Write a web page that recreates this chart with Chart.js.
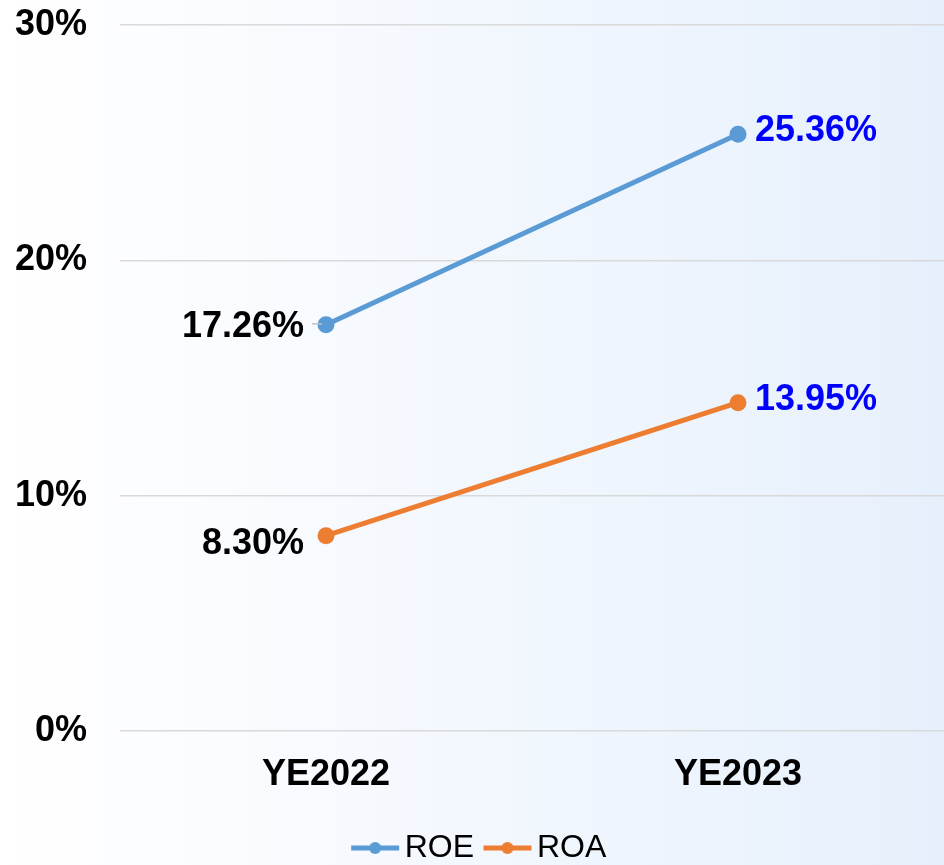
<!DOCTYPE html>
<html>
<head>
<meta charset="utf-8">
<script src="https://cdn.jsdelivr.net/npm/chart.js@4.4.1/dist/chart.umd.min.js"></script>
<style>
  html, body { margin: 0; padding: 0; background: #ffffff; }
  #wrap { width: 944px; height: 865px; }
</style>
</head>
<body>
<div id="wrap"><canvas id="ratioChart" width="944" height="865"></canvas></div>
<script>
const years = ['YE2022', 'YE2023'];
const roeValues = [17.26, 25.36];
const roaValues = [8.30, 13.95];
const yTicks = [0, 10, 20, 30];

const FONT = '"Liberation Sans", Arial, sans-serif';
const ROE_COLOR = '#5b9bd5';
const ROA_COLOR = '#ed7d31';

// legend marker: short line with a dot in the middle
// (canvas is centred on x + pointStyleWidth/2, so the line is drawn from 11.5 to 59.5)
function legendMarker(color) {
    const c = document.createElement('canvas');
    c.width = 60;
    c.height = 14;
    const g = c.getContext('2d');
    g.strokeStyle = color;
    g.lineWidth = 5;
    g.beginPath();
    g.moveTo(11, 7);
    g.lineTo(59, 7);
    g.stroke();
    g.fillStyle = color;
    g.beginPath();
    g.arc(35, 7, 6, 0, Math.PI * 2);
    g.fill();
    return c;
}

const backgroundPlugin = {
    id: 'bgGradient',
    beforeDraw(chart) {
        const ctx = chart.ctx;
        const grad = ctx.createLinearGradient(0, 0, chart.width, 0);
        grad.addColorStop(0, '#ffffff');
        grad.addColorStop(0.15, '#fcfdff');
        grad.addColorStop(1, '#e6f0fc');
        ctx.save();
        ctx.fillStyle = grad;
        ctx.fillRect(0, 0, chart.width, chart.height);
        ctx.restore();
    }
};

const valueLabels = {
    id: 'valueLabels',
    afterDatasetsDraw(chart) {
        const ctx = chart.ctx;
        ctx.save();
        ctx.font = 'bold 36px ' + FONT;
        ctx.textBaseline = 'middle';
        chart.data.datasets.forEach((ds, i) => {
            const meta = chart.getDatasetMeta(i);
            meta.data.forEach((pt, j) => {
                const txt = ds.data[j].toFixed(2) + '%';
                if (j === 0) {
                    if (i === 0) {
                        // small leader line
                        ctx.strokeStyle = '#bfbfbf';
                        ctx.lineWidth = 1.5;
                        ctx.beginPath();
                        ctx.moveTo(pt.x - 14, pt.y - 1);
                        ctx.lineTo(pt.x - 4, pt.y - 1);
                        ctx.stroke();
                    }
                    ctx.fillStyle = '#000000';
                    ctx.textAlign = 'right';
                    ctx.fillText(txt, pt.x - 22, pt.y + (i === 1 ? 8 : 2));
                } else {
                    ctx.fillStyle = '#0000ff';
                    ctx.textAlign = 'left';
                    ctx.fillText(txt, pt.x + 17, pt.y - 3);
                }
            });
        });
        ctx.restore();
    }
};

new Chart(document.getElementById('ratioChart'), {
    type: 'line',
    data: {
        labels: years,
        datasets: [{
            label: 'ROE',
            data: roeValues,
            borderColor: ROE_COLOR,
            backgroundColor: ROE_COLOR,
            borderWidth: 5,
            pointRadius: 6,
            pointHoverRadius: 6,
            tension: 0
        }, {
            label: 'ROA',
            data: roaValues,
            borderColor: ROA_COLOR,
            backgroundColor: ROA_COLOR,
            borderWidth: 5,
            pointRadius: 6,
            pointHoverRadius: 6,
            tension: 0
        }]
    },
    options: {
        responsive: false,
        animation: false,
        layout: { autoPadding: false, padding: { top: 0, left: 14, right: 0, bottom: 0 } },
        scales: {
            x: {
                offset: true,
                grid: { display: false },
                border: { display: false },
                afterFit(axis) {
                    axis.height = 91;
                    axis.paddingLeft = 0;
                    axis.paddingRight = 0;
                },
                ticks: {
                    color: '#000000',
                    font: { family: FONT, size: 36, weight: 'bold' },
                    padding: 14
                }
            },
            y: {
                min: 0,
                max: 30,
                afterBuildTicks(axis) {
                    axis.ticks = yTicks.map(v => ({ value: v }));
                },
                afterFit(axis) {
                    axis.width = 106;
                    axis.paddingTop = 25;
                    axis.paddingBottom = 0;
                },
                grid: { color: '#d9d9d9', lineWidth: 1.5, drawTicks: false },
                border: { display: false },
                ticks: {
                    color: '#000000',
                    font: { family: FONT, size: 36, weight: 'bold' },
                    padding: 33,
                    callback: v => v + '%'
                }
            }
        },
        plugins: {
            tooltip: { enabled: false },
            legend: {
                position: 'bottom',
                maxHeight: 43,
                labels: {
                    usePointStyle: true,
                    pointStyleWidth: 37,
                    padding: 10,
                    color: '#000000',
                    font: { family: FONT, size: 32 },
                    generateLabels(chart) {
                        const items = Chart.defaults.plugins.legend.labels.generateLabels(chart);
                        items.forEach((it, i) => {
                            it.pointStyle = legendMarker(i === 0 ? ROE_COLOR : ROA_COLOR);
                        });
                        return items;
                    }
                }
            }
        }
    },
    plugins: [backgroundPlugin, valueLabels]
});
</script>
</body>
</html>
